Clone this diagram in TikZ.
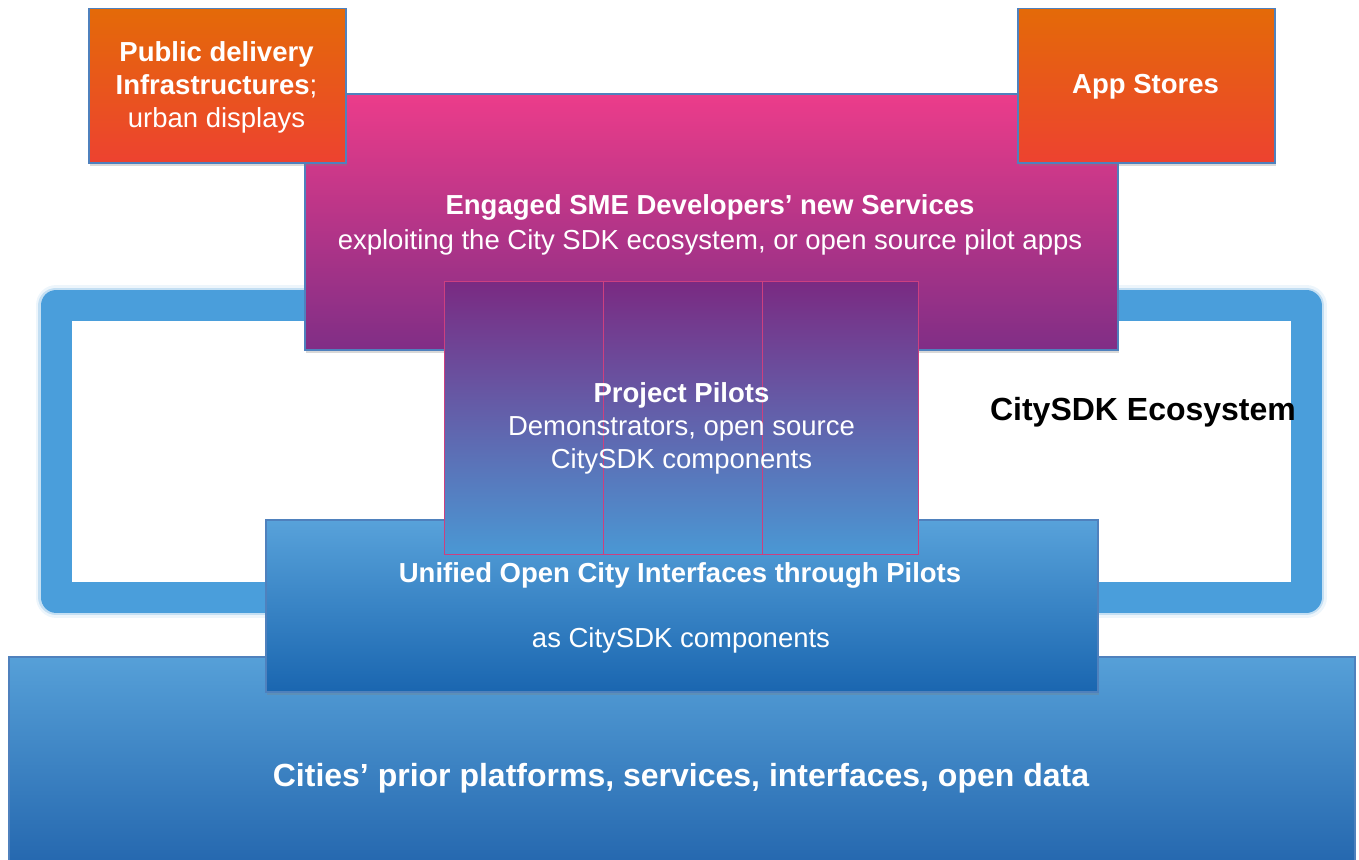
\documentclass[tikz,border=0pt]{standalone}
\usepackage{fontspec}
\setmainfont{Liberation Sans}
\usetikzlibrary{shadows}
\definecolor{bordblue}{RGB}{79,129,189}
\definecolor{orTop}{RGB}{228,106,8}
\definecolor{orBot}{RGB}{237,66,48}
\definecolor{pkTop}{RGB}{236,60,138}
\definecolor{pkMid}{RGB}{186,54,138}
\definecolor{pkBot}{RGB}{128,46,134}
\definecolor{plTop}{RGB}{122,42,130}
\definecolor{plMid}{RGB}{118,108,172}
\definecolor{plBot}{RGB}{74,152,212}
\definecolor{plBorder}{RGB}{204,64,128}
\definecolor{unTop}{RGB}{88,162,218}
\definecolor{unBot}{RGB}{26,102,176}
\definecolor{ciTop}{RGB}{86,160,216}
\definecolor{ciBot}{RGB}{34,100,172}
\definecolor{framecol}{RGB}{74,158,219}
\tikzset{
  box/.style={draw=bordblue, line width=1.5pt, anchor=north west, inner sep=0pt,
    drop shadow={opacity=0.3, shadow xshift=1.5pt, shadow yshift=-3pt}},
  wlbl/.style={text=white, align=center, inner sep=0pt, font=\fontsize{27.5}{33}\selectfont},
  blbl/.style={text=black, align=center, inner sep=0pt, font=\fontsize{32}{36}\selectfont\bfseries},
}
\begin{document}
\begin{tikzpicture}[x=1pt,y=-1pt]
\useasboundingbox (0,0) rectangle (1359,859);
\clip (0,0) rectangle (1359,859);
% ecosystem frame (soft outer edge)
\draw[framecol, line width=41pt, line join=round, opacity=0.10] (56,305.5) rectangle (1306,597);
\draw[framecol, line width=36pt, line join=round, opacity=0.25] (56,305.5) rectangle (1306,597);
\draw[framecol, line width=31pt, line join=round] (56,305.5) rectangle (1306,597);
\fill[white] (71.5,321) rectangle (1290.5,581.5);
\node[blbl] (eco) at (1143,412) {CitySDK Ecosystem};
% bottom layer
\node[box, top color=ciTop, bottom color=ciBot, minimum width=1346pt, minimum height=220pt] (cities) at (8,656) {};
\node[wlbl, font=\fontsize{32}{36}\selectfont\bfseries] (citiestxt) at (681,778) {Cities’ prior platforms, services, interfaces, open data};
% unified interfaces
\node[box, top color=unTop, bottom color=unBot, minimum width=832pt, minimum height=172pt] (unified) at (265,519) {};
\node[wlbl, font=\fontsize{27.5}{33}\selectfont\bfseries] (unitxt1) at (680,575) {Unified Open City Interfaces through Pilots};
\node[wlbl] (unitxt2) at (681,640) {as CitySDK components};
% SME services
\node[box, top color=pkTop, middle color=pkMid, bottom color=pkBot, minimum width=813pt, minimum height=256pt] (sme) at (304,93) {};
\node[wlbl, font=\fontsize{27.5}{35}\selectfont] (smetxt) at (710,225) {\textbf{Engaged SME Developers’ new Services}\\exploiting the City SDK ecosystem, or open source pilot apps};
% orange boxes
\node[box, top color=orTop, bottom color=orBot, minimum width=257pt, minimum height=154pt] (pdi) at (88,8) {};
\node[wlbl] (pditxt) at (216.5,87.5) {\textbf{Public delivery}\\\textbf{Infrastructures};\\urban displays};
\node[box, top color=orTop, bottom color=orBot, minimum width=257pt, minimum height=154pt] (apps) at (1017,8) {};
\node[wlbl, font=\fontsize{27.5}{33}\selectfont\bfseries] (appstxt) at (1145.5,87) {App Stores};
% project pilots
\node[draw=plBorder, line width=1pt, anchor=north west, inner sep=0pt, top color=plTop, middle color=plMid, bottom color=plBot, minimum width=474pt, minimum height=273pt] (pilots) at (444,281) {};
\draw[plBorder, line width=1pt] (603,281) -- (603,554);
\draw[plBorder, line width=1pt] (762,281) -- (762,554);
\node[wlbl] (pilotstxt) at (681.5,428) {\textbf{Project Pilots}\\Demonstrators, open source\\CitySDK components};
\end{tikzpicture}
\end{document}
